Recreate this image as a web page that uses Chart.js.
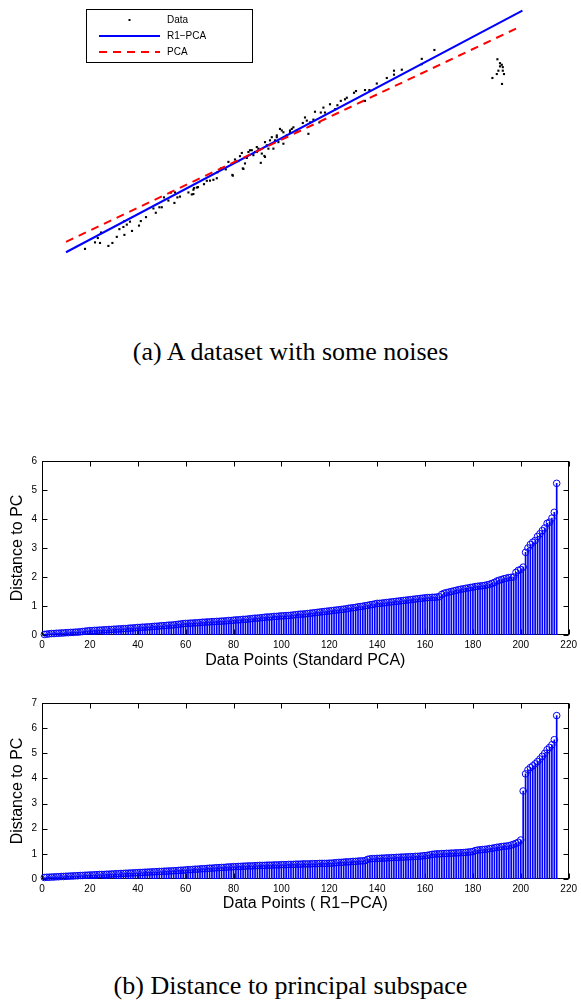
<!DOCTYPE html>
<html><head><meta charset="utf-8">
<script src="https://cdn.jsdelivr.net/npm/chart.js@4/dist/chart.umd.min.js"></script>
<style>
html,body{margin:0;padding:0;background:#fff;width:581px;height:1000px;overflow:hidden;}
.box{position:absolute;left:0;width:581px;}
.cap{position:absolute;left:0;width:581px;text-align:center;font-family:"Liberation Serif",serif;color:#000;font-size:26px;line-height:26px;white-space:nowrap;}
</style></head><body>
<div class="box" style="top:0;height:310px"><canvas id="c1" width="581" height="310"></canvas></div>
<div class="cap" style="top:339px">(a) A dataset with some noises</div>
<div class="box" style="top:450px;height:230px"><canvas id="c2" width="581" height="230"></canvas></div>
<div class="box" style="top:690px;height:230px"><canvas id="c3" width="581" height="230"></canvas></div>
<div class="cap" style="top:973px">(b) Distance to principal subspace</div>
<script>
// ---------- (a) dataset ----------
const dataX = [2.25,2.75,3.0,2.89,3.05,3.42,3.62,3.84,3.97,4.17,4.22,4.22,4.34,4.5,4.6,4.95,5.04,5.3,5.67,5.79,
  5.97,6.09,6.2,6.42,6.54,6.72,6.75,6.87,7.0,7.42,7.59,7.67,7.7,7.9,8.2,8.5,8.67,8.84,8.87,9.05,
  9.29,9.42,9.62,9.75,9.92,10.0,10.14,10.25,10.42,10.59,10.67,10.84,10.92,10.75,11.09,11.25,11.25,11.42,11.59,11.75,
  11.84,11.92,12.09,12.17,12.17,12.34,12.5,12.59,12.67,12.84,13.14,13.25,13.34,13.42,13.5,13.67,13.75,13.97,14.04,14.17,
  14.25,14.5,14.75,14.87,15.04,15.25,15.34,15.7,15.8,16.25,16.25,16.47,16.84,17.34,17.7,17.7,18.09,19.09,19.09,19.72,
  10.09,10.34,10.5,10.84,11.04,11.22,11.34,11.5,11.67,11.84,12.0,12.5,9.64,10.17,8.34,7.67,7.84,
  22.87,23.0,23.09,23.0,23.14,22.92,23.14,22.84,23.2,22.62,23.1];
const dataY = [2.59,2.92,2.89,3.14,3.42,2.74,2.89,3.2,3.59,3.7,4.0,3.3,3.82,3.97,3.5,3.77,4.0,4.2,4.64,4.42,
  4.7,4.7,5.2,5.04,5.44,4.92,5.45,5.2,5.24,5.45,5.35,5.59,5.67,5.72,5.87,6.05,6.09,6.17,6.47,6.67,
  6.62,7.0,6.34,7.12,7.04,7.29,6.67,6.92,7.5,7.59,7.34,7.5,7.67,7.5,7.42,7.25,8.0,7.67,8.25,8.09,
  8.34,8.0,8.59,8.5,7.92,8.34,8.5,8.67,8.75,8.59,8.97,9.25,9.09,8.42,9.0,9.14,9.54,9.0,9.5,9.75,
  9.5,9.92,9.67,9.87,10.09,10.17,10.25,10.5,10.59,10.64,10.09,10.64,10.97,11.25,11.62,11.42,11.67,12.22,11.95,12.67,
  7.45,7.2,7.59,7.75,6.95,7.3,7.84,8.09,7.67,8.25,8.67,8.59,6.3,6.64,6.04,5.37,5.7,
  12.2,12.0,11.92,11.84,11.8,11.62,11.62,11.45,11.45,11.25,10.95];
const r1pcaX = [1.3, 24.12];
const r1pcaY = [2.42, 14.67];
const pcaX = [1.3, 23.9];
const pcaY = [2.95, 13.8];
const legendLabels = ['Data', 'R1\u2212PCA', 'PCA'];

// ---------- (b) distances ----------
const stdPCA = [
0.02,0.03,0.04,0.05,0.05,0.06,0.06,0.07,0.07,0.08,
0.08,0.09,0.09,0.10,0.10,0.11,0.12,0.13,0.14,0.15,
0.15,0.16,0.16,0.17,0.17,0.18,0.18,0.19,0.19,0.20,
0.20,0.21,0.21,0.22,0.22,0.23,0.24,0.24,0.25,0.26,
0.26,0.27,0.27,0.28,0.28,0.29,0.30,0.30,0.31,0.32,
0.32,0.33,0.34,0.34,0.35,0.36,0.37,0.38,0.39,0.40,
0.40,0.41,0.41,0.42,0.42,0.43,0.44,0.44,0.45,0.45,
0.46,0.46,0.47,0.47,0.48,0.48,0.49,0.50,0.50,0.51,
0.52,0.52,0.53,0.54,0.54,0.55,0.56,0.57,0.58,0.58,
0.59,0.60,0.61,0.62,0.62,0.63,0.64,0.64,0.65,0.66,
0.66,0.67,0.67,0.68,0.69,0.70,0.71,0.72,0.72,0.73,
0.74,0.75,0.76,0.77,0.78,0.79,0.80,0.81,0.82,0.83,
0.84,0.85,0.86,0.87,0.88,0.89,0.90,0.92,0.93,0.94,
0.95,0.97,0.98,0.99,1.01,1.02,1.04,1.05,1.07,1.09,
1.09,1.10,1.11,1.12,1.13,1.14,1.15,1.16,1.17,1.18,
1.19,1.20,1.21,1.22,1.23,1.24,1.25,1.26,1.27,1.28,
1.29,1.29,1.30,1.30,1.31,1.32,1.40,1.44,1.46,1.48,
1.50,1.52,1.54,1.56,1.58,1.59,1.61,1.62,1.64,1.65,
1.67,1.68,1.69,1.70,1.71,1.73,1.75,1.78,1.81,1.86,
1.89,1.91,1.94,1.96,1.98,1.99,2.00,2.16,2.23,2.26,
2.34,2.85,3.00,3.12,3.20,3.26,3.40,3.49,3.60,3.69,3.85,3.89,4.03,4.23,5.23];
const r1PCA = [
0.06,0.07,0.07,0.08,0.08,0.09,0.09,0.10,0.10,0.11,
0.11,0.12,0.12,0.13,0.13,0.14,0.14,0.15,0.15,0.16,
0.16,0.17,0.17,0.18,0.18,0.18,0.19,0.19,0.20,0.20,
0.21,0.21,0.22,0.22,0.23,0.23,0.24,0.24,0.25,0.25,
0.26,0.26,0.27,0.27,0.28,0.28,0.29,0.29,0.30,0.30,
0.31,0.31,0.32,0.32,0.33,0.33,0.34,0.35,0.35,0.36,
0.37,0.37,0.38,0.39,0.39,0.40,0.41,0.41,0.42,0.43,
0.43,0.44,0.45,0.45,0.46,0.46,0.47,0.48,0.48,0.49,
0.49,0.50,0.50,0.51,0.51,0.52,0.52,0.52,0.53,0.53,
0.54,0.54,0.54,0.55,0.55,0.55,0.56,0.56,0.56,0.57,
0.57,0.57,0.58,0.58,0.58,0.59,0.59,0.59,0.60,0.60,
0.60,0.60,0.61,0.61,0.61,0.62,0.62,0.62,0.62,0.63,
0.63,0.64,0.65,0.66,0.66,0.67,0.68,0.68,0.69,0.70,
0.70,0.71,0.72,0.72,0.73,0.78,0.80,0.81,0.81,0.82,
0.82,0.83,0.83,0.84,0.84,0.85,0.85,0.86,0.86,0.87,
0.87,0.88,0.88,0.89,0.89,0.90,0.90,0.91,0.92,0.93,
0.94,0.96,0.98,0.99,1.00,1.00,1.01,1.01,1.02,1.02,
1.03,1.03,1.04,1.04,1.05,1.05,1.06,1.07,1.08,1.09,
1.13,1.15,1.16,1.17,1.18,1.19,1.21,1.22,1.24,1.26,
1.27,1.29,1.30,1.31,1.32,1.35,1.38,1.42,1.46,1.55,
3.50,4.18,4.34,4.43,4.50,4.58,4.67,4.77,4.88,5.00,5.14,5.23,5.34,5.54,6.50];
const xTicks = [0,20,40,60,80,100,120,140,160,180,200,220];
const yTicksStd = [0,1,2,3,4,5,6];
const yTicksR1 = [0,1,2,3,4,5,6,7];

const BLUE = '#0000ff', RED = '#ff0000';
const SANS = '"Liberation Sans", Arial, Helvetica, sans-serif';

// Chart (a)
const legendPlugin = {
  id: 'boxLegend',
  afterDraw(chart) {
    const ctx = chart.ctx;
    ctx.save();
    ctx.strokeStyle = '#000'; ctx.lineWidth = 1;
    ctx.fillStyle = '#fff';
    ctx.fillRect(86.5, 9.5, 166, 53);
    ctx.strokeRect(86.5, 9.5, 166, 53);
    const ds = chart.data.datasets;
    const rows = [20, 36, 52];
    ctx.fillStyle = ds[0].backgroundColor;
    ctx.fillRect(128.5, rows[0] - 1, 2, 2);
    ctx.lineWidth = ds[1].borderWidth;
    ctx.strokeStyle = ds[1].borderColor;
    ctx.beginPath(); ctx.moveTo(99, rows[1]); ctx.lineTo(160, rows[1]); ctx.stroke();
    ctx.strokeStyle = ds[2].borderColor;
    ctx.setLineDash(ds[2].borderDash);
    ctx.beginPath(); ctx.moveTo(99, rows[2]); ctx.lineTo(160, rows[2]); ctx.stroke();
    ctx.setLineDash([]);
    ctx.fillStyle = '#000';
    ctx.font = '10px ' + SANS;
    ctx.textBaseline = 'middle'; ctx.textAlign = 'left';
    ds.forEach((d, i) => ctx.fillText(d.label, 167, rows[i]));
    ctx.restore();
  }
};

new Chart(document.getElementById('c1'), {
  type: 'scatter',
  data: {
    datasets: [
      { label: legendLabels[0], data: dataX.map((x, i) => ({x, y: dataY[i]})),
        pointStyle: 'rect', pointRadius: 1.5, backgroundColor: '#000', borderWidth: 0, showLine: false, order: 3 },
      { label: legendLabels[1], type: 'line', data: r1pcaX.map((x, i) => ({x, y: r1pcaY[i]})),
        borderColor: BLUE, borderWidth: 2, pointRadius: 0, fill: false, order: 2 },
      { label: legendLabels[2], type: 'line', data: pcaX.map((x, i) => ({x, y: pcaY[i]})),
        borderColor: RED, borderWidth: 2, borderDash: [8, 6], pointRadius: 0, fill: false, order: 1 }
    ]
  },
  options: {
    responsive: false, animation: false,
    layout: { padding: { left: 40, right: 21, top: 0, bottom: 10 } },
    plugins: { legend: { display: false }, tooltip: { enabled: false } },
    scales: {
      x: { type: 'linear', min: 0, max: 26, display: false },
      y: { type: 'linear', min: 0, max: 15, display: false }
    }
  },
  plugins: [legendPlugin]
});

// Stem charts
const boxPlugin = {
  id: 'matBox',
  beforeDatasetsDraw(chart) {
    const {ctx, chartArea: a, scales} = chart;
    ctx.save();
    ctx.strokeStyle = '#000'; ctx.lineWidth = 1;
    const L = Math.round(a.left) + 0.5, R = Math.round(a.right) - 0.5;
    const T = Math.round(a.top) + 0.5, B = Math.round(a.bottom) - 0.5;
    ctx.strokeRect(L, T, R - L, B - T);
    ctx.beginPath();
    scales.x.ticks.forEach(t => {
      const px = Math.round(scales.x.getPixelForValue(t.value)) + 0.5;
      ctx.moveTo(px, B); ctx.lineTo(px, B - 5);
      ctx.moveTo(px, T); ctx.lineTo(px, T + 5);
    });
    scales.y.ticks.forEach(t => {
      const py = Math.round(scales.y.getPixelForValue(t.value)) + 0.5;
      ctx.moveTo(L, py); ctx.lineTo(L + 5, py);
      ctx.moveTo(R, py); ctx.lineTo(R - 5, py);
    });
    ctx.stroke();
    ctx.restore();
  }
};

function stemChart(id, values, yTicks, xTitle, padTop, xHeight, titlePadBottom) {
  const pts = values.map((v, i) => ({x: i + 1, y: v}));
  const ymax = yTicks[yTicks.length - 1];
  new Chart(document.getElementById(id), {
    type: 'bar',
    data: {
      datasets: [
        { type: 'line', data: pts, showLine: false, pointStyle: 'circle', pointRadius: 3.3,
          pointBorderColor: BLUE, pointBackgroundColor: 'rgba(0,0,0,0)', pointBorderWidth: 1, clip: false, order: 0 },
        { type: 'bar', data: pts, backgroundColor: BLUE, borderWidth: 0, barThickness: 1, order: 1 }
      ]
    },
    options: {
      responsive: false, animation: false,
      layout: { padding: { top: padTop, right: 7, left: 0, bottom: 0 } },
      plugins: { legend: { display: false }, tooltip: { enabled: false } },
      scales: {
        x: { type: 'linear', min: xTicks[0], max: xTicks[xTicks.length - 1], offset: false,
          grid: { display: false, drawTicks: false, offset: false }, border: { display: false },
          afterBuildTicks: s => { s.ticks = xTicks.map(v => ({value: v})); },
          ticks: { padding: 4, color: '#000', font: { family: SANS, size: 10 }, maxRotation: 0, autoSkip: false },
          title: { display: true, text: xTitle, color: '#000', font: { family: SANS, size: 16 },
            padding: { top: 0, bottom: titlePadBottom } },
          afterFit: s => { s.height = xHeight; } },
        y: { type: 'linear', min: 0, max: ymax,
          grid: { display: false, drawTicks: false }, border: { display: false },
          afterBuildTicks: s => { s.ticks = yTicks.map(v => ({value: v})); },
          ticks: { padding: 5, color: '#000', font: { family: SANS, size: 10 } },
          title: { display: true, text: 'Distance to PC', color: '#000', font: { family: SANS, size: 16 },
            padding: { top: 8, bottom: 0 } },
          afterFit: s => { s.width = 42; } }
      }
    },
    plugins: [boxPlugin]
  });
}

stemChart('c2', stdPCA, yTicksStd, 'Data Points (Standard PCA)', 10, 45, 10);
stemChart('c3', r1PCA, yTicksR1, 'Data Points ( R1\u2212PCA)', 13, 41, 7);
</script>
</body></html>
